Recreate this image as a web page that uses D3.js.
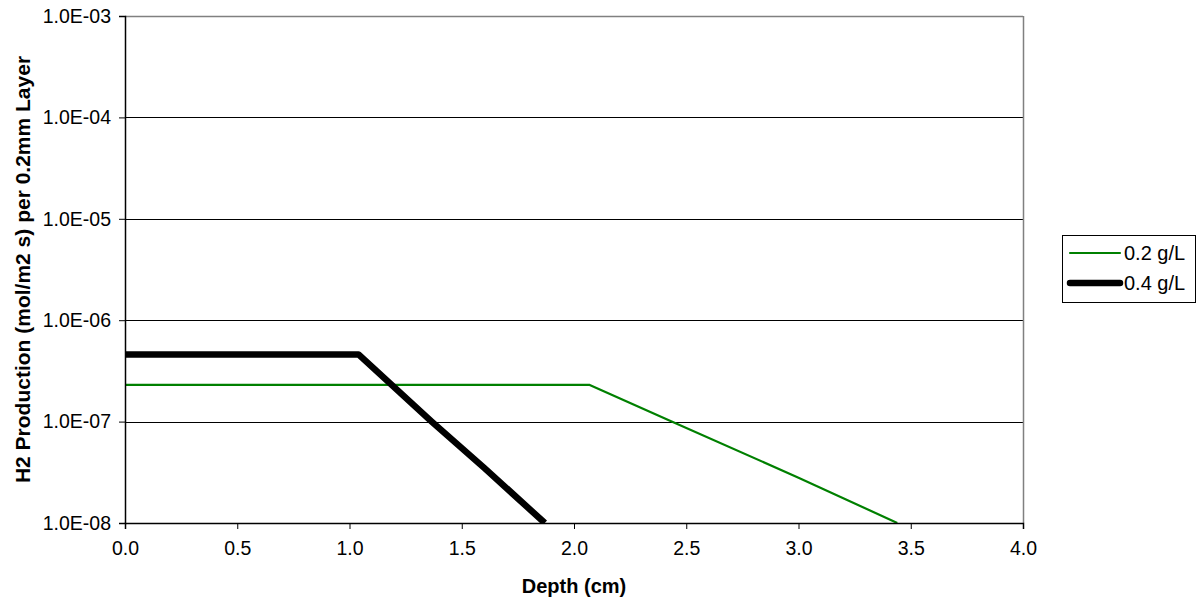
<!DOCTYPE html>
<html>
<head>
<meta charset="utf-8">
<script src="https://cdn.jsdelivr.net/npm/d3@7"></script>
<style>
  html, body { margin: 0; padding: 0; background: #fff; }
  svg { display: block; font-family: "Liberation Sans", Arial, sans-serif; }
</style>
</head>
<body>
<svg id="chart" width="1196" height="601"></svg>
<script>
// ---- Data ----
const seriesNames = ["0.2 g/L", "0.4 g/L"];
const depth02 = [0.0, 1.0, 2.07, 2.435, 3.0, 3.44];
const prod02  = [2.3e-7, 2.3e-7, 2.3e-7, 1.0e-7, 2.8e-8, 1.0e-8];
const depth04 = [0.0, 0.5, 1.04, 1.366, 1.6, 1.87];
const prod04  = [4.6e-7, 4.6e-7, 4.6e-7, 1.0e-7, 3.5e-8, 1.0e-8];
const xTicks = [0.0, 0.5, 1.0, 1.5, 2.0, 2.5, 3.0, 3.5, 4.0];
const yTicks = [1e-8, 1e-7, 1e-6, 1e-5, 1e-4, 1e-3];
const yTickLabels = ["1.0E-08", "1.0E-07", "1.0E-06", "1.0E-05", "1.0E-04", "1.0E-03"];
const xTitle = "Depth (cm)";
const yTitle = "H2 Production (mol/m2 s) per 0.2mm Layer";

// ---- Layout ----
const plot = { left: 125, top: 16, right: 1023, bottom: 523 };
const svg = d3.select("#chart");

const x = d3.scaleLinear().domain([0, 4]).range([plot.left, plot.right]);
const y = d3.scaleLog().domain([1e-8, 1e-3]).range([plot.bottom, plot.top]);

// gridlines
svg.append("g").selectAll("line")
  .data(yTicks.slice(1, -1))
  .join("line")
  .attr("x1", plot.left).attr("x2", plot.right)
  .attr("y1", d => Math.round(y(d)) + 0.5).attr("y2", d => Math.round(y(d)) + 0.5)
  .attr("stroke", "#000").attr("stroke-width", 1);

// plot border: top & right gray
svg.append("line").attr("x1", plot.left).attr("x2", plot.right)
  .attr("y1", plot.top + 0.5).attr("y2", plot.top + 0.5)
  .attr("stroke", "#808080").attr("stroke-width", 1.5);
svg.append("line").attr("x1", plot.right + 0.5).attr("x2", plot.right + 0.5)
  .attr("y1", plot.top).attr("y2", plot.bottom)
  .attr("stroke", "#808080").attr("stroke-width", 1.5);

// clip path
svg.append("clipPath").attr("id", "clip").append("rect")
  .attr("x", plot.left).attr("y", plot.top)
  .attr("width", plot.right - plot.left).attr("height", plot.bottom - plot.top);

const line = d3.line().x(d => x(d[0])).y(d => y(d[1]));
const data02 = depth02.map((d, i) => [d, prod02[i]]);
const data04 = depth04.map((d, i) => [d, prod04[i]]);

const gLines = svg.append("g").attr("clip-path", "url(#clip)");
gLines.append("path").datum(data02).attr("d", line)
  .attr("fill", "none").attr("stroke", "#008000").attr("stroke-width", 2.2)
  .attr("stroke-linejoin", "round");
gLines.append("path").datum(data04).attr("d", line)
  .attr("fill", "none").attr("stroke", "#000").attr("stroke-width", 6.5)
  .attr("stroke-linejoin", "round");

// axes
const yAxis = d3.axisLeft(y).tickValues(yTicks)
  .tickFormat((d, i) => yTickLabels[i]).tickSize(6).tickPadding(8);
const gy = svg.append("g").attr("transform", `translate(${plot.left},0)`).call(yAxis);
gy.select(".domain").attr("stroke", "#000").attr("stroke-width", 1.5);
gy.selectAll(".tick line").attr("stroke", "#000");
gy.selectAll("text").attr("font-size", 19.5).attr("fill", "#000")
  .attr("font-family", "Liberation Sans, Arial, sans-serif");

const xAxis = d3.axisBottom(x).tickValues(xTicks)
  .tickFormat(d3.format(".1f")).tickSize(6).tickPadding(12);
const gx = svg.append("g").attr("transform", `translate(0,${plot.bottom})`).call(xAxis);
gx.select(".domain").attr("stroke", "#000").attr("stroke-width", 1.5);
gx.selectAll(".tick line").attr("stroke", "#000");
gx.selectAll("text").attr("font-size", 19.5).attr("fill", "#000")
  .attr("font-family", "Liberation Sans, Arial, sans-serif");

// titles
svg.append("text").attr("x", x(2)).attr("y", 593)
  .attr("text-anchor", "middle").attr("font-weight", "bold").attr("font-size", 20)
  .text(xTitle);
svg.append("text")
  .attr("transform", `translate(30,${(plot.top + plot.bottom) / 2}) rotate(-90)`)
  .attr("text-anchor", "middle").attr("font-weight", "bold").attr("font-size", 21)
  .text(yTitle);

// legend
const lg = svg.append("g");
lg.append("rect").attr("x", 1062.5).attr("y", 235.5).attr("width", 133).attr("height", 67)
  .attr("fill", "#fff").attr("stroke", "#000").attr("stroke-width", 1);
const legendItems = [
  { name: seriesNames[0], color: "#008000", width: 2.2, y: 253 },
  { name: seriesNames[1], color: "#000", width: 6.5, y: 283 }
];
legendItems.forEach(it => {
  lg.append("line").attr("x1", 1070).attr("x2", 1120).attr("y1", it.y).attr("y2", it.y)
    .attr("stroke", it.color).attr("stroke-width", it.width).attr("stroke-linecap", "round");
  lg.append("text").attr("x", 1124).attr("y", it.y + 7).attr("font-size", 20).text(it.name);
});
</script>
</body>
</html>
